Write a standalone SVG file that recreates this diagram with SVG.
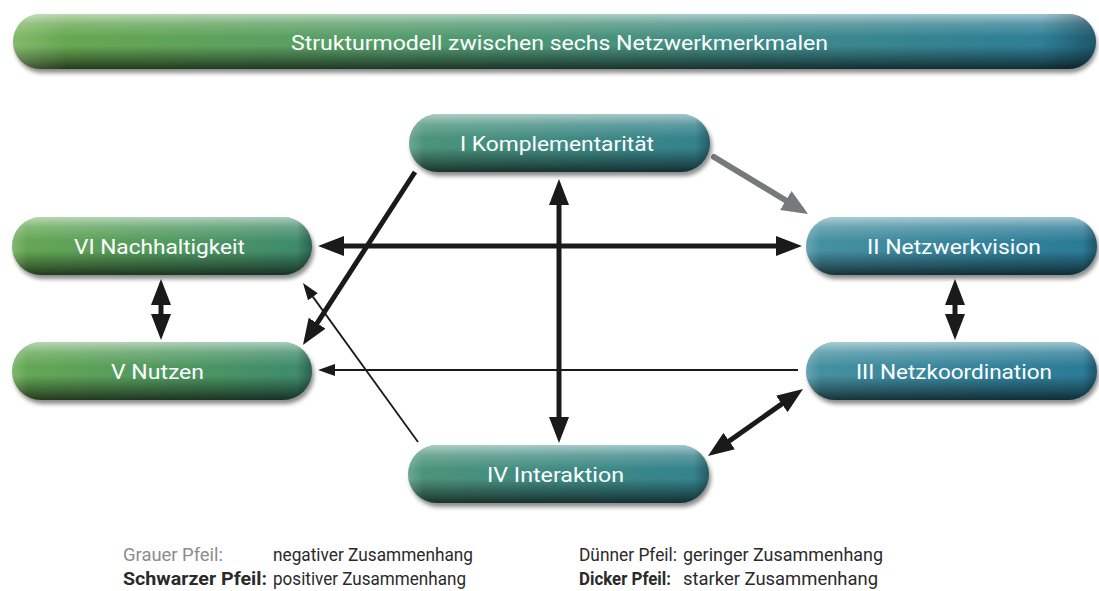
<svg xmlns="http://www.w3.org/2000/svg" width="1099" height="591" viewBox="0 0 1099 591">
<defs>
<linearGradient id="gTitle" x1="0" y1="0" x2="1" y2="0">
<stop offset="0" stop-color="#69aa4c"/><stop offset="0.45" stop-color="#4e9773"/><stop offset="0.72" stop-color="#3e898b"/><stop offset="1" stop-color="#2b7c97"/>
</linearGradient>
<linearGradient id="gGreen" x1="0" y1="0" x2="1" y2="0">
<stop offset="0" stop-color="#66a852"/><stop offset="1" stop-color="#3d8a6c"/>
</linearGradient>
<linearGradient id="gTeal" x1="0" y1="0" x2="1" y2="0">
<stop offset="0" stop-color="#4d9479"/><stop offset="1" stop-color="#33828e"/>
</linearGradient>
<linearGradient id="gBlue" x1="0" y1="0" x2="1" y2="0">
<stop offset="0" stop-color="#4691a1"/><stop offset="1" stop-color="#2a7a96"/>
</linearGradient>
<linearGradient id="gloss" x1="0" y1="0" x2="0" y2="1">
<stop offset="0" stop-color="#fff" stop-opacity="0.55"/>
<stop offset="0.18" stop-color="#fff" stop-opacity="0.2"/>
<stop offset="0.42" stop-color="#fff" stop-opacity="0"/>
<stop offset="0.58" stop-color="#000" stop-opacity="0"/>
<stop offset="0.85" stop-color="#000" stop-opacity="0.4"/>
<stop offset="1" stop-color="#000" stop-opacity="0.65"/>
</linearGradient>
<linearGradient id="edge" x1="0" y1="0" x2="1" y2="0">
<stop offset="0" stop-color="#fff" stop-opacity="0.18"/>
<stop offset="0.05" stop-color="#fff" stop-opacity="0"/>
<stop offset="0.95" stop-color="#000" stop-opacity="0"/>
<stop offset="1" stop-color="#000" stop-opacity="0.3"/>
</linearGradient>
<filter id="blur" x="-10%" y="-30%" width="120%" height="160%"><feGaussianBlur stdDeviation="2.2"/></filter>
<marker id="ah" viewBox="0 0 26 20" refX="18" refY="10" markerWidth="26" markerHeight="20" markerUnits="userSpaceOnUse" orient="auto-start-reverse"><path d="M0,0L26,10L0,20z" fill="#1a1a1a"/></marker>
<marker id="ahThin" viewBox="0 0 17 12" refX="12" refY="6" markerWidth="17" markerHeight="12" markerUnits="userSpaceOnUse" orient="auto-start-reverse"><path d="M0,0L17,6L0,12z" fill="#1a1a1a"/></marker>
<marker id="ahGray" viewBox="0 0 26 22" refX="18" refY="11" markerWidth="26" markerHeight="22" markerUnits="userSpaceOnUse" orient="auto-start-reverse"><path d="M0,0L26,11L0,22z" fill="#77797c"/></marker>
<style>
.shadow{fill:#000;opacity:0.45;filter:url(#blur)}
.gloss{fill:url(#gloss)}
.edge{fill:url(#edge)}
.lbl{font-family:Roboto,"Liberation Sans",sans-serif;font-size:20px;fill:#fff}
.title{font-family:Roboto,"Liberation Sans",sans-serif;font-size:21px;fill:#fff}
.leg{font-family:Roboto,"Liberation Sans",sans-serif;font-size:18px;fill:#2a2a2a}
.legb{font-weight:bold}
.gray{fill:#8c8c8c}
.thick{stroke:#1a1a1a;stroke-width:5;fill:none}
.thin{stroke:#1a1a1a;stroke-width:1.8;fill:none}
.grayl{stroke:#77797c;stroke-width:6;fill:none;stroke-linecap:round}
</style>
</defs>
<rect width="1099" height="591" fill="#fff"/>

<g id="title">
<rect class="shadow" x="15" y="18" width="1082" height="55" rx="27.5"/>
<rect x="13" y="14" width="1083" height="55" rx="27.5" fill="url(#gTitle)"/>
<rect class="gloss" x="13" y="14" width="1083" height="55" rx="27.5"/>
<rect class="edge" x="13" y="14" width="1083" height="55" rx="27.5"/>
<text class="title" x="291" y="50" textLength="537" lengthAdjust="spacingAndGlyphs">Strukturmodell zwischen sechs Netzwerkmerkmalen</text>
</g>

<g id="connectors">
<line class="thick" x1="326" y1="246" x2="794" y2="246" marker-start="url(#ah)" marker-end="url(#ah)"/>
<line class="thick" x1="559" y1="187" x2="559" y2="435" marker-start="url(#ah)" marker-end="url(#ah)"/>
<line class="thick" x1="415" y1="172" x2="307.3" y2="338.3" marker-end="url(#ah)"/>
<line class="thin" x1="418" y1="442" x2="305.9" y2="287.1" marker-end="url(#ahThin)"/>
<line class="thin" x1="798" y1="370" x2="323" y2="370" marker-end="url(#ahThin)"/>
<line class="grayl" x1="714" y1="157" x2="801.2" y2="209.8" marker-end="url(#ahGray)"/>
<line class="thick" x1="714.5" y1="451.4" x2="796.5" y2="393.6" marker-start="url(#ah)" marker-end="url(#ah)"/>
<line class="thick" x1="161" y1="287" x2="161" y2="332" marker-start="url(#ah)" marker-end="url(#ah)"/>
<line class="thick" x1="955" y1="287" x2="955" y2="332" marker-start="url(#ah)" marker-end="url(#ah)"/>
</g>

<g id="node-I">
<rect class="shadow" x="411" y="118" width="301" height="58" rx="29"/>
<rect x="409" y="114" width="301" height="58" rx="29" fill="url(#gTeal)"/>
<rect class="gloss" x="409" y="114" width="301" height="58" rx="29"/>
<rect class="edge" x="409" y="114" width="301" height="58" rx="29"/>
<text class="lbl" x="460" y="151" textLength="194" lengthAdjust="spacingAndGlyphs">I Komplementarität</text>
</g>

<g id="node-VI">
<rect class="shadow" x="14" y="221" width="300" height="58" rx="29"/>
<rect x="12" y="217" width="300" height="58" rx="29" fill="url(#gGreen)"/>
<rect class="gloss" x="12" y="217" width="300" height="58" rx="29"/>
<rect class="edge" x="12" y="217" width="300" height="58" rx="29"/>
<text class="lbl" x="74" y="254" textLength="171" lengthAdjust="spacingAndGlyphs">VI Nachhaltigkeit</text>
</g>

<g id="node-V">
<rect class="shadow" x="14" y="346" width="300" height="58" rx="29"/>
<rect x="12" y="342" width="300" height="58" rx="29" fill="url(#gGreen)"/>
<rect class="gloss" x="12" y="342" width="300" height="58" rx="29"/>
<rect class="edge" x="12" y="342" width="300" height="58" rx="29"/>
<text class="lbl" x="111" y="379" textLength="93" lengthAdjust="spacingAndGlyphs">V Nutzen</text>
</g>

<g id="node-II">
<rect class="shadow" x="808" y="221" width="291" height="58" rx="29"/>
<rect x="806" y="217" width="291" height="58" rx="29" fill="url(#gBlue)"/>
<rect class="gloss" x="806" y="217" width="291" height="58" rx="29"/>
<rect class="edge" x="806" y="217" width="291" height="58" rx="29"/>
<text class="lbl" x="867" y="254" textLength="174" lengthAdjust="spacingAndGlyphs">II Netzwerkvision</text>
</g>

<g id="node-III">
<rect class="shadow" x="808" y="346" width="291" height="58" rx="29"/>
<rect x="806" y="342" width="291" height="58" rx="29" fill="url(#gBlue)"/>
<rect class="gloss" x="806" y="342" width="291" height="58" rx="29"/>
<rect class="edge" x="806" y="342" width="291" height="58" rx="29"/>
<text class="lbl" x="856" y="379" textLength="196" lengthAdjust="spacingAndGlyphs">III Netzkoordination</text>
</g>

<g id="node-IV">
<rect class="shadow" x="410" y="449" width="301" height="58" rx="29"/>
<rect x="408" y="445" width="301" height="58" rx="29" fill="url(#gTeal)"/>
<rect class="gloss" x="408" y="445" width="301" height="58" rx="29"/>
<rect class="edge" x="408" y="445" width="301" height="58" rx="29"/>
<text class="lbl" x="487" y="482" textLength="137" lengthAdjust="spacingAndGlyphs">IV Interaktion</text>
</g>

<g id="legend">
<text class="leg gray" x="123" y="561" textLength="100" lengthAdjust="spacingAndGlyphs">Grauer Pfeil:</text>
<text class="leg" x="273" y="561" textLength="200" lengthAdjust="spacingAndGlyphs">negativer Zusammenhang</text>
<text class="leg legb" x="123" y="585" textLength="144" lengthAdjust="spacingAndGlyphs">Schwarzer Pfeil:</text>
<text class="leg" x="273" y="585" textLength="193" lengthAdjust="spacingAndGlyphs">positiver Zusammenhang</text>
<text class="leg" x="579" y="561" textLength="98" lengthAdjust="spacingAndGlyphs">Dünner Pfeil:</text>
<text class="leg" x="683" y="561" textLength="200" lengthAdjust="spacingAndGlyphs">geringer Zusammenhang</text>
<text class="leg legb" x="579" y="585" textLength="92" lengthAdjust="spacingAndGlyphs">Dicker Pfeil:</text>
<text class="leg" x="683" y="585" textLength="195" lengthAdjust="spacingAndGlyphs">starker Zusammenhang</text>
</g>
</svg>
